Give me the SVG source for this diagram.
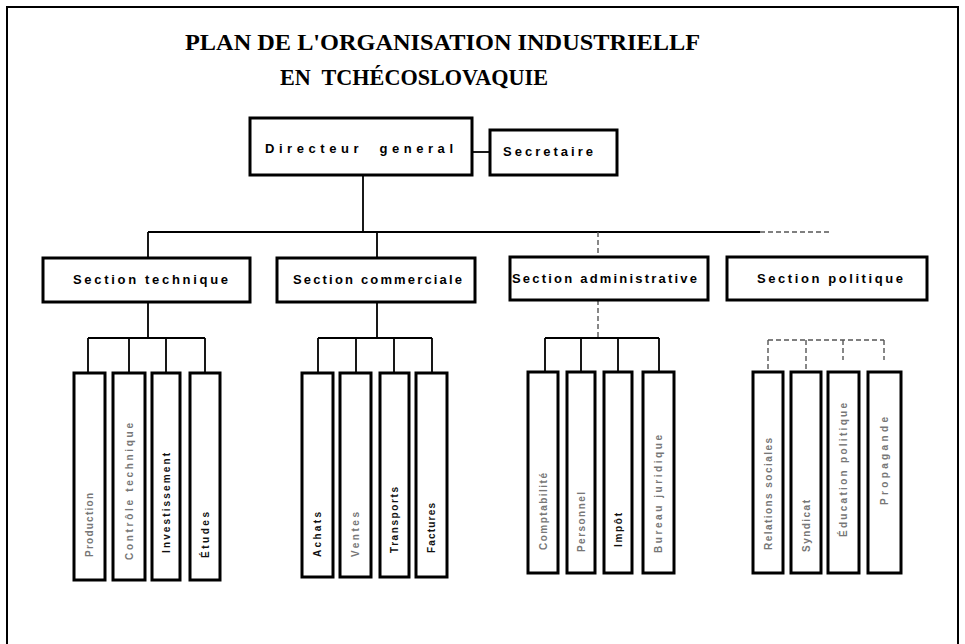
<svg xmlns="http://www.w3.org/2000/svg" width="965" height="644" viewBox="0 0 965 644">
<style>
.box{fill:#fff;stroke:#000;stroke-width:3}
.ln{fill:none;stroke:#000;stroke-width:1.8}
.fa{fill:none;stroke:#555;stroke-width:1.4;stroke-dasharray:5 3}
.frame{fill:none;stroke:#000;stroke-width:2}
.title{font-family:"Liberation Serif",serif;font-weight:bold;font-size:23px;fill:#000}
.lbl{font-family:"Liberation Sans",sans-serif;font-weight:bold;font-size:13px;fill:#000}
.v{font-family:"Liberation Sans",sans-serif;font-weight:bold;font-size:10px;fill:#111}
.vf{font-family:"Liberation Sans",sans-serif;font-weight:bold;font-size:10px;fill:#777}
</style>
<rect x="0" y="0" width="965" height="644" fill="#fff"/>
<path class="frame" d="M7,644 V7 H958 V644"/>
<g id="title">
<text class="title" x="185" y="50" textLength="515" lengthAdjust="spacingAndGlyphs">PLAN DE L'ORGANISATION INDUSTRIELLF</text>
<text class="title" x="280" y="85" textLength="268" lengthAdjust="spacingAndGlyphs" xml:space="preserve">EN  TCHÉCOSLOVAQUIE</text>
</g>
<g id="connectors">
<path class="ln" d="M472,152 H490"/>
<path class="ln" d="M363,175 V232"/>
<path class="ln" d="M148,232 H760"/>
<path class="fa" d="M760,232 H830"/>
<path class="ln" d="M148,232 V258 M377,232 V258"/>
<path class="fa" d="M598,232 V257"/>
<path class="ln" d="M148,302 V338 M88,338 H205 M88,338 V373 M129,338 V373 M166,338 V373 M205,338 V373"/>
<path class="ln" d="M377,302 V338 M318,338 H432 M318,338 V373 M356,338 V373 M394,338 V373 M432,338 V373"/>
<path class="fa" d="M598,300 V338"/>
<path class="ln" d="M545,338 H659 M545,338 V372 M581,338 V372 M618,338 V372 M659,338 V372"/>
<path class="fa" d="M768,340 H884 M768,340 V372 M806,340 V372 M843,340 V360 M884,340 V360"/>
</g>
<g id="directeur">
<rect class="box" x="250" y="118" width="222" height="57"/>
<text class="lbl" x="265" y="153" font-size="15" textLength="188" lengthAdjust="spacing" xml:space="preserve">Directeur  general</text>
</g>
<g id="secretaire">
<rect class="box" x="490" y="130" width="127" height="45"/>
<text class="lbl" x="503" y="156" font-size="12" textLength="90" lengthAdjust="spacing">Secretaire</text>
</g>
<g id="section-technique">
<rect class="box" x="43" y="258" width="207" height="44"/>
<text class="lbl" x="73" y="284" textLength="155" lengthAdjust="spacing">Section technique</text>
</g>
<g id="section-commerciale">
<rect class="box" x="277" y="258" width="198" height="44"/>
<text class="lbl" x="293" y="284" textLength="169" lengthAdjust="spacing">Section commerciale</text>
</g>
<g id="section-administrative">
<rect class="box" x="510" y="257" width="198" height="43"/>
<text class="lbl" x="512" y="283" textLength="185" lengthAdjust="spacing">Section administrative</text>
</g>
<g id="section-politique">
<rect class="box" x="727" y="257" width="200" height="43"/>
<text class="lbl" x="757" y="283" textLength="146" lengthAdjust="spacing" fill="#444">Section politique</text>
</g>
<g id="production"><rect class="box" x="74" y="373" width="31" height="207"/><text class="vf" transform="translate(93,557) rotate(-90)" textLength="64" lengthAdjust="spacing">Production</text></g>
<g id="controle-technique"><rect class="box" x="113" y="373" width="32" height="207"/><text class="vf" transform="translate(133,560) rotate(-90)" textLength="137" lengthAdjust="spacing">Contrôle technique</text></g>
<g id="investissement"><rect class="box" x="152" y="373" width="28" height="207"/><text class="v" transform="translate(170,553) rotate(-90)" textLength="100" lengthAdjust="spacing">Investissement</text></g>
<g id="etudes"><rect class="box" x="190" y="373" width="30" height="207"/><text class="v" transform="translate(209,558) rotate(-90)" textLength="46" lengthAdjust="spacing">Études</text></g>
<g id="achats"><rect class="box" x="302" y="373" width="31" height="204"/><text class="v" transform="translate(321,557) rotate(-90)" textLength="45" lengthAdjust="spacing">Achats</text></g>
<g id="ventes"><rect class="box" x="340" y="373" width="31" height="204"/><text class="vf" transform="translate(359,557) rotate(-90)" textLength="45" lengthAdjust="spacing">Ventes</text></g>
<g id="transports"><rect class="box" x="380" y="373" width="29" height="204"/><text class="v" transform="translate(398,553) rotate(-90)" textLength="66" lengthAdjust="spacing">Transports</text></g>
<g id="factures"><rect class="box" x="416" y="373" width="31" height="204"/><text class="v" transform="translate(435,553) rotate(-90)" textLength="50" lengthAdjust="spacing">Factures</text></g>
<g id="comptabilite"><rect class="box" x="528" y="372" width="30" height="201"/><text class="vf" transform="translate(547,550) rotate(-90)" textLength="77" lengthAdjust="spacing">Comptabilité</text></g>
<g id="personnel"><rect class="box" x="567" y="372" width="28" height="201"/><text class="vf" transform="translate(585,552) rotate(-90)" textLength="60" lengthAdjust="spacing">Personnel</text></g>
<g id="impot"><rect class="box" x="604" y="372" width="28" height="201"/><text class="v" transform="translate(622,547) rotate(-90)" textLength="34" lengthAdjust="spacing">Impôt</text></g>
<g id="bureau-juridique"><rect class="box" x="643" y="372" width="31" height="201"/><text class="vf" transform="translate(662,553) rotate(-90)" textLength="118" lengthAdjust="spacing">Bureau juridique</text></g>
<g id="p1"><rect class="box" x="753" y="372" width="30" height="201"/><text class="vf" transform="translate(772,550) rotate(-90)" textLength="112" lengthAdjust="spacing">Relations sociales</text></g>
<g id="p2"><rect class="box" x="791" y="372" width="30" height="201"/><text class="vf" transform="translate(810,552) rotate(-90)" textLength="52" lengthAdjust="spacing">Syndicat</text></g>
<g id="p3"><rect class="box" x="828" y="372" width="31" height="201"/><text class="vf" transform="translate(847,537) rotate(-90)" textLength="134" lengthAdjust="spacing">Éducation politique</text></g>
<g id="p4"><rect class="box" x="868" y="372" width="33" height="201"/><text class="vf" transform="translate(888,505) rotate(-90)" textLength="88" lengthAdjust="spacing">Propagande</text></g>
</svg>
